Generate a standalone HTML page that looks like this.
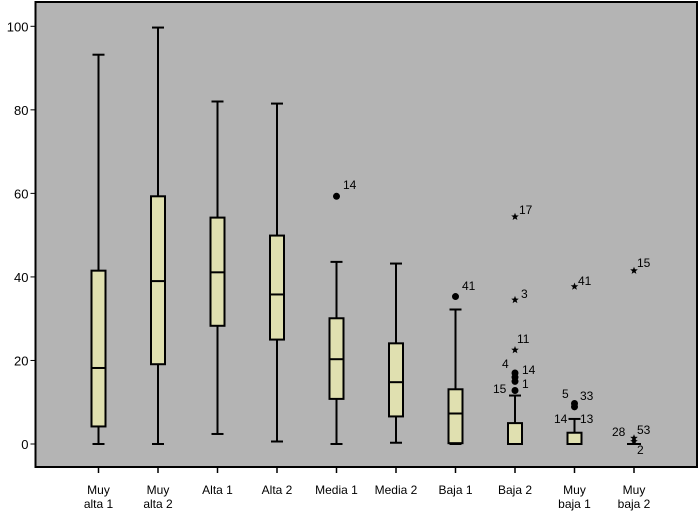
<!DOCTYPE html>
<html><head><meta charset="utf-8"><style>
body{margin:0;background:#fff}
svg{display:block;font-family:"Liberation Sans",Arial,sans-serif}
</style></head><body>
<svg id="c" width="700" height="515"></svg>
<script>
const categories=[["Muy","alta 1"],["Muy","alta 2"],["Alta 1"],["Alta 2"],["Media 1"],["Media 2"],["Baja 1"],["Baja 2"],["Muy","baja 1"],["Muy","baja 2"]];
const mins=[0,0,2.4,0.6,0,0.3,0,0,0,0];
const q1s=[4.2,19.1,28.3,25,10.8,6.6,0.2,0,0,0];
const medians=[18.2,39,41.1,35.8,20.3,14.8,7.3,0,0,0];
const q3s=[41.5,59.3,54.2,49.9,30.1,24.1,13.1,5,2.7,0];
const maxs=[93.2,99.7,82,81.5,43.6,43.2,32.2,11.6,6,0];
const circleOutliers=[[4,59.3,"14"],[6,35.3,"41"],[7,12.8,"15"],[7,15,"1"],[7,16,"14"],[7,17,"4"],[8,8.9,"5"],[8,9.7,"33"]];
const starOutliers=[[7,22.5,"11"],[7,34.5,"3"],[7,54.4,"17"],[8,37.7,"41"],[9,41.5,"15"],[9,1.4,""],[9,0.6,""]];
const yTicks=[0,20,40,60,80,100];
const L=35.5,T=2,R=697,B=467;
const y=v=>444-v*4.177;
const x=i=>98.5+i*59.5;
const NS="http://www.w3.org/2000/svg";
const svg=document.getElementById("c");
function mk(t,a,p){const e=document.createElementNS(NS,t);for(const k in a)e.setAttribute(k,a[k]);(p||svg).appendChild(e);return e;}
const bg=mk("rect",{x:L,y:T,width:R-L,height:B-T,fill:"#b4b4b4",stroke:"#000","stroke-width":2});


yTicks.forEach(v=>{
  const g=mk("g",{});
  
  
  mk("line",{x1:L-5,x2:L,y1:y(v),y2:y(v),stroke:"#000","stroke-width":1},g);
  const t=mk("text",{x:L-7,y:y(v)+5,"text-anchor":"end","font-size":13},g);t.textContent=v;
});
categories.forEach((c,i)=>{
  const g=mk("g",{});
  
  
  const cx=x(i),w=7;
  mk("line",{x1:cx,x2:cx,y1:y(mins[i]),y2:y(maxs[i]),stroke:"#000","stroke-width":2},g);
  mk("line",{x1:cx-6,x2:cx+6,y1:y(mins[i]),y2:y(mins[i]),stroke:"#000","stroke-width":2},g);
  mk("line",{x1:cx-6,x2:cx+6,y1:y(maxs[i]),y2:y(maxs[i]),stroke:"#000","stroke-width":2},g);
  if(q3s[i]>q1s[i]) mk("rect",{x:cx-w,y:y(q3s[i]),width:2*w,height:y(q1s[i])-y(q3s[i]),fill:"#e0e0b0",stroke:"#000","stroke-width":2},g);
  mk("line",{x1:cx-w,x2:cx+w,y1:y(medians[i]),y2:y(medians[i]),stroke:"#000","stroke-width":2},g);
  mk("line",{x1:cx,x2:cx,y1:B,y2:B+6,stroke:"#000","stroke-width":1.5},g);
  c.forEach((s,k)=>{const t=mk("text",{x:cx,y:494+k*14,"text-anchor":"middle","font-size":12},g);t.textContent=s;});
});
circleOutliers.forEach(o=>{
  const g=mk("g",{});
  
  
  mk("circle",{cx:x(o[0]),cy:y(o[1]),r:3.5,fill:"#000"},g);
});
function starPts(cx,cy,ro,ri){let p=[];for(let k=0;k<10;k++){const a=-Math.PI/2+k*Math.PI/5,r=k%2?ri:ro;p.push((cx+r*Math.cos(a)).toFixed(1)+","+(cy+r*Math.sin(a)).toFixed(1));}return p.join(" ");}
starOutliers.forEach(o=>{
  const g=mk("g",{});
  
  
  mk("polygon",{points:starPts(x(o[0]),y(o[1]),4,1.7),fill:"#000"},g);
});
const labels=[[343,189,"14"],[462,290,"41"],[519,214,"17"],[521,298,"3"],[517,343,"11"],[502,368,"4"],[522,374,"14"],[493,393,"15"],[522,388,"1"],[562,398,"5"],[580,400,"33"],[554,423,"14"],[580,423,"13"],[578,285,"41"],[637,267,"15"],[612,436,"28"],[637,434,"53"],[637,454,"2"]];
labels.forEach(l=>{
  const t=mk("text",{x:l[0],y:l[1],"font-size":12});
  
  
  t.textContent=l[2];
});
</script>
</body></html>
